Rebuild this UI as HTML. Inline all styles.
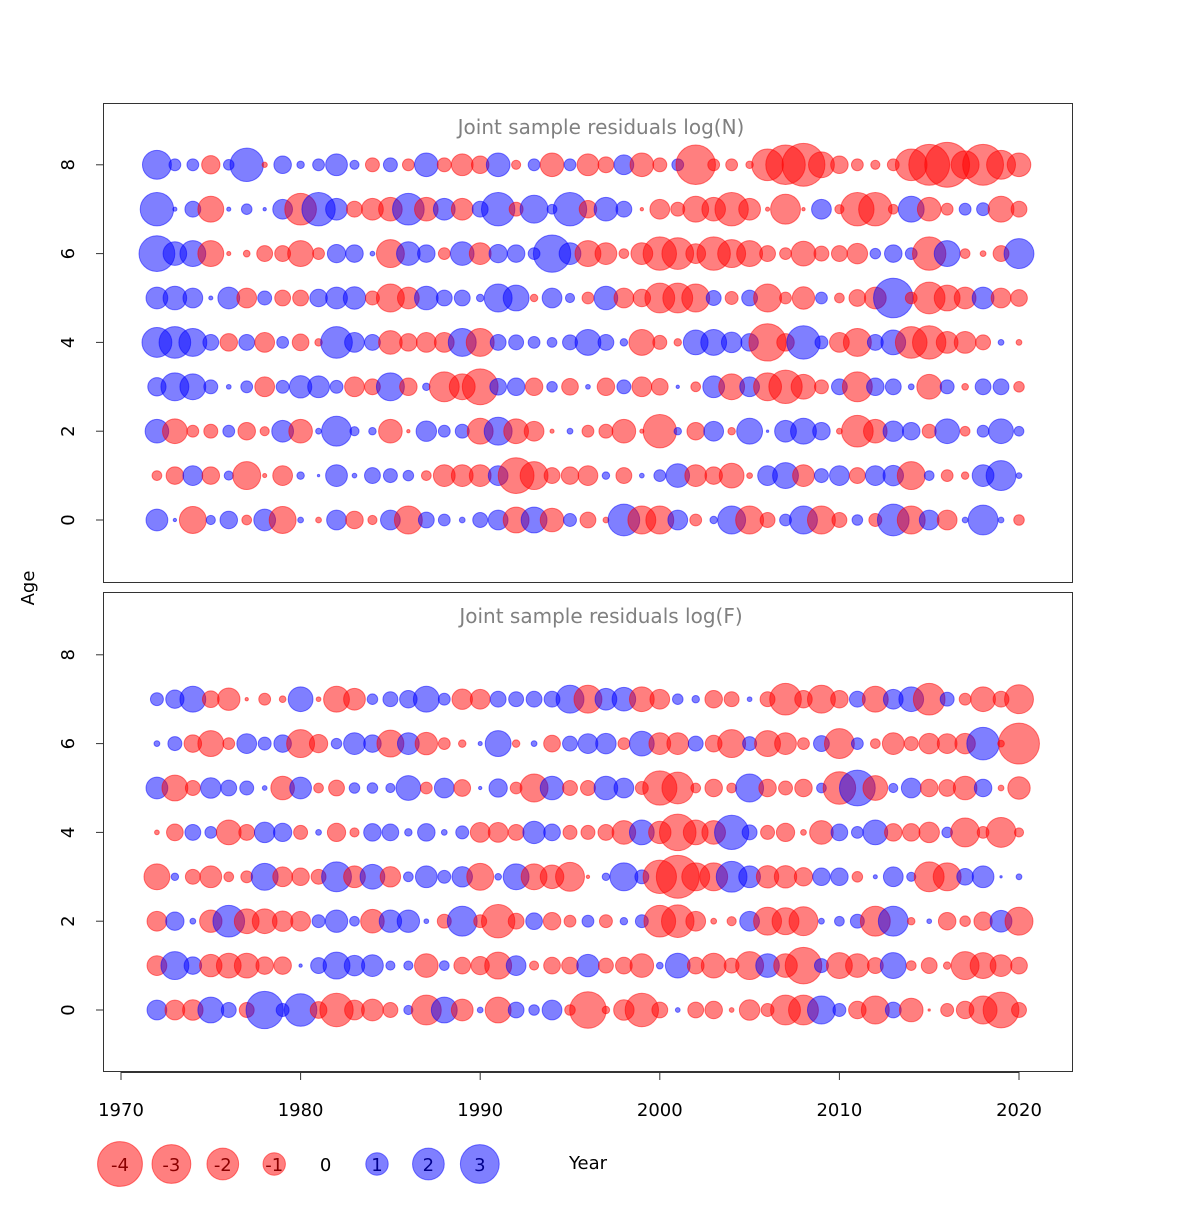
<!DOCTYPE html>
<html><head><meta charset="utf-8"><style>
html,body{margin:0;padding:0;background:#fff;}
svg text{font-family:"DejaVu Sans","Liberation Sans",sans-serif;}
</style></head><body>
<svg id="chart" width="1200" height="1200" viewBox="0 0 1200 1200" xmlns="http://www.w3.org/2000/svg">
<rect width="1200" height="1200" fill="#fff"/>
<g id="top"></g>
<g id="bot"></g>
<g id="axes"></g>
<g id="legend"></g>
</svg>
<script>
const years = [];
for (let y = 1972; y <= 2020; y++) years.push(y);
const xTicks = [1970,1980,1990,2000,2010,2020];
const yTicks = [0,2,4,6,8];
const legendValues = [-4,-3,-2,-1,0,1,2,3];

// Top panel: log(N) residuals, ages 0..8
const nAge8 = [1.5,0.25,0.25,-0.6,0.2,2,-0.05,0.55,0.1,0.25,0.85,0.15,-0.35,0.35,-0.25,1,-0.35,-0.85,-0.55,1,-0.15,0.25,-1,0.25,-0.85,-0.45,0.7,-1,-0.35,0.25,-2.8,-0.25,-0.25,-0.1,-1.8,-2.8,-3.3,-1.2,-0.55,-0.25,-0.15,-0.25,-1.8,-3,-3.6,-1.4,-3,-1.5,-1];
const nAge7 = [2,0.03,0.45,-1.2,0.03,0.2,0.02,0.7,-1.8,2,0.85,-0.45,-0.85,-1,1.8,-1,0.85,-0.85,0.45,2,-0.35,1.4,0.17,2,-0.55,1,0.45,-0.02,-0.7,-0.35,-1.2,-1,-2,-0.85,-0.03,-1.6,-0.02,0.7,-0.15,-2,-2,-0.17,1.2,-1,-0.25,0.25,0.3,-1.2,-0.45];
const nAge6 = [2.3,1,1.2,-1.2,-0.03,-0.08,-0.45,-0.45,-1.2,-0.25,0.6,0.55,0.04,-1.4,1,0.55,-0.25,1,-0.85,0.6,0.55,0.25,2.5,0.85,-1.2,-0.85,-0.17,-0.85,-2,-1.8,-0.7,-2,-1.4,-1.2,-0.45,-0.25,-1.1,-0.4,-0.45,-0.75,0.2,0.55,0.25,-2,1.2,-0.17,-0.06,-0.45,1.6];
const nAge5 = [0.85,1,0.7,0.03,0.85,-0.7,0.35,-0.45,-0.45,0.55,0.85,0.9,-0.35,-1.4,-0.85,1,0.45,0.45,0.1,1.4,1.2,-0.1,0.7,0.15,-0.25,1,-0.7,-0.55,-1.6,-1.6,-1.4,0.4,-0.3,0.45,-1.4,-0.25,-0.9,0.25,-0.17,-0.5,-0.85,2.8,-0.25,-1.8,-1.2,-0.85,0.85,-0.7,-0.5];
const nAge4 = [1.6,1.8,1.4,0.45,-0.55,0.45,-0.7,0.25,-0.5,-0.1,1.8,0.7,0.45,-1,-0.55,-0.7,-0.7,1.4,-1.4,0.45,0.4,0.25,0.17,0.4,1.2,0.45,0.1,-1.2,-0.35,-0.1,1.1,1.2,0.75,0.55,-2.5,-0.55,2,0.3,-0.7,-1.4,0.45,1.1,-1.8,-2,-0.85,-0.85,-0.4,0.06,-0.06];
const nAge3 = [0.6,1.4,1.2,0.35,0.04,0.25,-0.7,0.3,0.9,0.85,0.3,-0.7,-0.45,1.4,-0.55,0.1,-1.6,-1.2,-2.3,0.5,0.55,-0.55,0.2,-0.5,0.04,-0.55,0.35,-0.7,-0.5,0.02,-0.17,0.85,-1.2,0.7,-1.4,-2,-1.1,-0.35,0.45,-1.6,0.55,0.45,0.06,-1.1,0.35,-0.08,0.45,0.45,-0.2];
const nAge2 = [1,-1.1,-0.25,-0.35,0.25,-0.55,-0.15,0.85,-1,0.06,1.6,0.15,0.1,-1,-0.02,0.75,0.25,0.35,-1.2,1.4,-1.1,-0.7,-0.03,0.06,-0.25,-0.35,-1,-0.03,-2,0.1,-0.55,0.7,-0.1,1.2,0.01,0.85,1.2,0.55,-0.06,-1.8,-1,0.75,0.55,-0.35,1.1,-0.17,0.25,1.1,0.17];
const nAge1 = [-0.17,-0.55,0.7,-0.55,0.15,-1.4,-0.03,-0.7,0.1,0.01,0.85,0.04,0.45,0.35,0.2,-0.17,-0.85,-0.85,-0.85,0.7,-2.3,-1.4,-0.45,-0.55,-0.7,0.1,-0.45,0.04,0.25,1,-0.85,-0.55,-1.1,-0.06,0.7,1.2,-0.85,0.35,0.7,-0.45,0.7,0.75,-1.4,0.17,-0.25,-0.1,0.85,1.6,0.06];
const nAge0 = [0.85,0.02,-1.3,0.15,0.55,-0.17,0.85,-1.3,0.06,-0.06,0.7,-0.55,-0.15,0.7,-1.4,0.45,0.25,0.06,0.4,0.7,-1.2,1.2,-1,0.3,-0.45,-0.06,1.8,-1.4,-1.4,0.7,-0.25,0.1,1.4,-1.4,-0.4,0.25,1.4,-1.4,-0.4,0.2,-0.3,1.8,-1.4,0.7,-0.7,0.06,1.6,0.06,-0.2];

// Bottom panel: log(F) residuals, ages 0..7
const fAge7 = [0.3,0.6,1.2,-0.5,-0.9,-0.02,-0.25,-0.08,1.1,-0.04,-1.2,-0.85,0.2,0.4,0.55,1.2,0.25,-0.75,-0.7,0.45,0.4,0.45,0.45,1.4,-1.4,0.85,1,-1.1,-0.7,0.2,0.1,-0.55,-0.4,0.04,-0.4,-1.8,-0.55,-1.4,-0.55,0.45,-1.2,0.7,1.1,-1.8,0.35,-0.25,-1.1,-0.45,-1.5];
const fAge6 = [0.06,0.35,-0.55,-1.2,-0.25,0.7,0.3,0.55,-1.4,-0.6,0.2,0.85,0.55,-1.3,0.85,-0.9,-0.25,-0.1,0.03,1.2,-0.1,0.06,-0.5,0.4,0.7,0.75,-0.25,1.1,-0.85,-0.85,0.4,-0.5,-1.4,0.35,-1.2,-0.85,-0.25,0.45,-1.6,0.25,-0.17,-0.85,-0.35,-0.75,-0.7,-0.75,1.9,-0.08,-3];
const fAge5 = [0.85,-1.2,-0.4,0.75,0.45,0.35,0.04,-1,0.85,-0.17,-0.45,0.2,0.2,0.15,1.1,-0.25,0.7,-0.5,0.02,0.6,-0.25,-1.4,1,-0.4,-0.4,1,0.7,-0.3,-2.1,-1.8,-0.17,-0.55,-0.17,1.4,-0.55,-0.35,-0.55,0.17,-1.9,2.3,-1.1,0.15,0.7,-0.55,-0.5,-1,0.55,-0.06,-0.9];
const fAge4 = [-0.04,-0.5,0.45,0.25,-1.1,-0.45,0.75,0.6,-0.35,0.06,-0.6,-0.15,0.55,0.5,0.1,0.55,0.06,0.3,-0.7,-0.7,-0.45,0.9,0.5,-0.35,-0.35,-0.45,-1,1.1,-0.9,-2.4,-1.1,-1,2.1,0.4,-0.35,-0.6,-0.06,-1,0.5,0.25,1.1,-0.55,-0.55,-0.75,0.2,-1.5,-0.25,-1.6,-0.15];
const fAge3 = [-1.2,0.1,-0.4,-0.85,-0.17,-0.25,1.3,-0.7,-0.55,-0.4,1.6,-0.85,1.1,-0.75,0.17,0.85,0.3,0.75,-1.3,0.08,1.2,-1.2,-1,-1.5,-0.02,0.1,1.4,0.35,-2,-3.3,-1.4,-1.4,1.7,0.85,-0.9,-0.9,-0.6,0.55,0.55,-0.2,0.03,0.7,0.15,-1.6,-1.4,0.5,0.85,0.01,0.06];
const fAge2 = [-0.7,0.6,0.06,-0.9,1.8,-1.1,-1.1,-0.75,-0.7,0.3,0.9,0.17,-1,0.9,0.9,0.04,-0.35,1.6,-0.3,-2,-0.45,0.5,-0.55,-0.25,0.25,-0.3,0.1,0.3,-1.8,-1.9,-0.7,-0.06,-0.15,0.7,-1.4,-1.3,-1.5,0.06,0.17,0.35,-1.6,1.6,-0.1,0.04,-0.55,-0.2,-0.6,0.85,-1.4];
const fAge1 = [-0.7,1.4,0.55,-0.9,-1.1,-1.1,-0.55,-0.55,0.02,0.45,1.3,0.75,0.85,0.15,0.15,-1,0.17,-0.5,-0.6,-1.3,0.7,-0.15,-0.5,-0.5,0.9,-0.4,-0.5,-1,0.08,1.1,-0.5,-1.1,-0.4,-1.4,1,-1,-2.4,0.35,-1.2,-1,-0.45,1.2,-0.17,-0.45,-0.1,-1.4,-1.2,-0.85,-0.5];
const fAge0 = [0.7,-0.7,-0.75,1.2,0.4,-0.4,2.5,0.3,1.9,-0.5,-2,-0.7,-0.85,-0.4,0.15,-1.6,1.2,-0.85,0.06,-1.2,0.45,0.2,0.7,-0.2,-2.4,-0.1,-0.75,-2,-0.45,0.04,-0.45,-0.55,-0.04,-0.75,-0.3,-1.6,-1.6,1.4,0.3,-0.55,-1.4,0.45,-1,-0.01,-0.3,-0.55,-1.4,-2.3,-0.4];

const nRows = [nAge0,nAge1,nAge2,nAge3,nAge4,nAge5,nAge6,nAge7,nAge8];
const fRows = [fAge0,fAge1,fAge2,fAge3,fAge4,fAge5,fAge6,fAge7];

const NS = "http://www.w3.org/2000/svg";
const K = 11.8;
const RED = "rgba(255,0,0,0.5)", BLUE = "rgba(0,0,255,0.5)";
const xScale = yr => 121 + (yr - 1970) * 17.96;
const yScaleTop = a => 520 - a * 44.4;
const yScaleBot = a => 1010 - a * 44.4;
const rScale = v => K * Math.sqrt(Math.abs(v));

function mk(tag, attrs, parent) {
  const e = document.createElementNS(NS, tag);
  for (const k in attrs) e.setAttribute(k, attrs[k]);
  parent.appendChild(e);
  return e;
}

function panel(g, rows, yScale, top, title, prefix) {
  const box = mk("rect", {x:103.5, y:top+0.5, width:969, height:479, fill:"none", stroke:"#333", "stroke-width":1}, g);
  
  
  const t = mk("text", {x:601, y:top+31, "text-anchor":"middle", "font-size":20, fill:"#808080"}, g);
  t.textContent = title;
  
  
  rows.forEach((row, age) => {
    row.forEach((v, i) => {
      const col = v < 0 ? RED : BLUE;
      const c = mk("circle", {cx:xScale(years[i]), cy:yScale(age), r:rScale(v), fill:col, stroke:col, "stroke-width":1}, g);
      
      
    });
  });
  yTicks.forEach(a => {
    const y = yScale(a);
    const l = mk("line", {x1:96, x2:103, y1:y, y2:y, stroke:"#333"}, g);
    
    
    const tx = mk("text", {x:74, y:y, "text-anchor":"middle", "font-size":18, fill:"#000", transform:"rotate(-90 74 " + y + ")"}, g);
    tx.textContent = a;
    
    
  });
  const axl = mk("line", {x1:103.5, x2:103.5, y1:yScale(0), y2:yScale(8), stroke:"#333"}, g);
  
  
}

panel(document.getElementById("top"), nRows, yScaleTop, 103, "Joint sample residuals log(N)", "log-n");
panel(document.getElementById("bot"), fRows, yScaleBot, 592, "Joint sample residuals log(F)", "log-f");

const ax = document.getElementById("axes");
const xl = mk("line", {x1:xScale(1970), x2:xScale(2020), y1:1072.5, y2:1072.5, stroke:"#333"}, ax);


xTicks.forEach(yr => {
  const x = xScale(yr);
  const l = mk("line", {x1:x, x2:x, y1:1072, y2:1080, stroke:"#333"}, ax);
  
  
  const t = mk("text", {x:x, y:1116, "text-anchor":"middle", "font-size":18, fill:"#000"}, ax);
  t.textContent = yr;
  
  
});
const ageLab = mk("text", {x:34, y:588, "text-anchor":"middle", "font-size":18, fill:"#000", transform:"rotate(-90 34 588)"}, ax);
ageLab.textContent = "Age";



const lg = document.getElementById("legend");
legendValues.forEach((v, i) => {
  const cx = 120 + i * 51.4;
  if (v !== 0) {
    const col = v < 0 ? RED : BLUE;
    const c = mk("circle", {cx:cx, cy:1164, r:rScale(v) * 0.95, fill:col, stroke:col}, lg);
    
    
  }
  const t = mk("text", {x:cx, y:1171, "text-anchor":"middle", "font-size":18, fill: v < 0 ? "#8b0000" : (v > 0 ? "#00008b" : "#000")}, lg);
  t.textContent = v;
  
  
});
const yr = mk("text", {x:588, y:1169, "text-anchor":"middle", "font-size":18, fill:"#000"}, lg);
yr.textContent = "Year";


</script>
</body></html>
